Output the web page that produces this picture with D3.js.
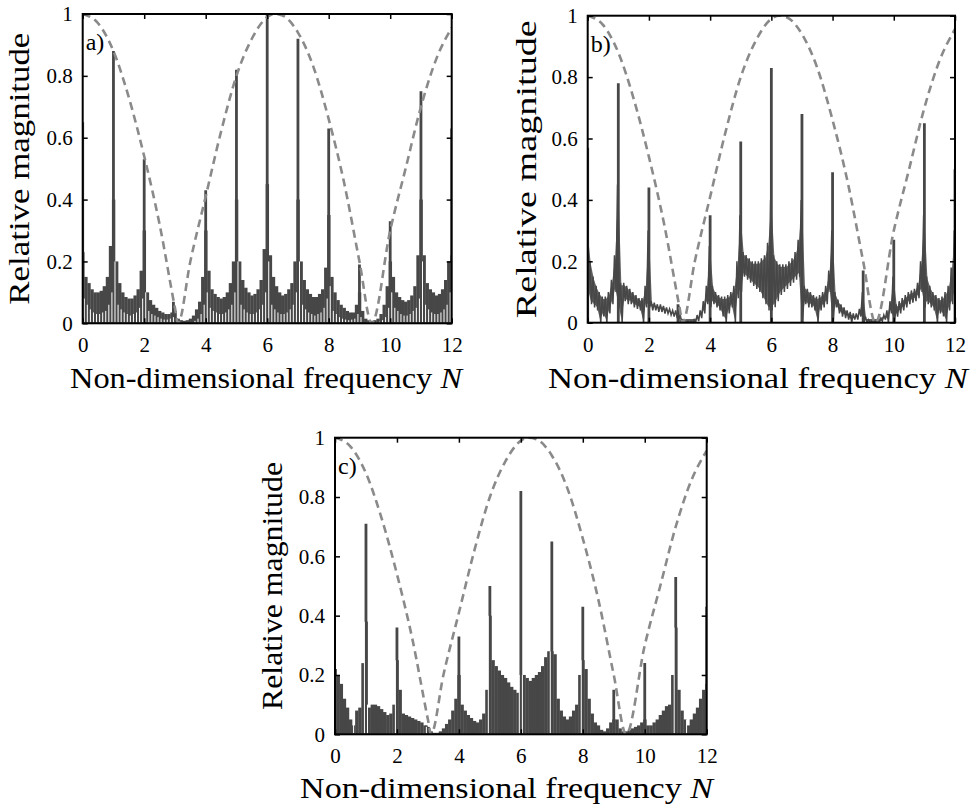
<!DOCTYPE html>
<head>
  <meta charset="utf-8">
  <script src="https://d3js.org/d3.v7.min.js"></script>
  <style>
    body { margin: 0; background: #fff; }
    text { font-family: "Liberation Serif", "Times New Roman", "DejaVu Serif Condensed", "DejaVu Serif", serif; fill: #000; }
  </style>
</head>
<body>
  <script>
    // frequency bins are 0.1 apart, from N = 0 to N = 12 (121 bins)
    var binStep = 0.1;
    var xTicks = [0, 2, 4, 6, 8, 10, 12];
    var yTicks = [0, 0.2, 0.4, 0.6, 0.8, 1];

    // dashed reference curve
    var curveN = [0, 0.5, 1, 1.5, 2, 2.5, 3, 3.1, 3.5, 4, 4.5, 5, 5.5, 6, 6.25, 6.5, 7, 7.5, 8, 8.5, 9, 9.4, 10, 10.5, 11, 11.5, 12];
    var curveV = [1.0, 0.97, 0.88, 0.73, 0.54, 0.32, 0.05, 0, 0.2, 0.41, 0.62, 0.8, 0.92, 0.99, 1.0, 0.995, 0.94, 0.83, 0.66, 0.455, 0.2, 0, 0.3, 0.5, 0.7, 0.855, 0.956];

    // peak heights at N = 0, 1, ..., 12
    var peakN = [0, 1, 2, 2.95, 4, 5, 6, 7, 8, 9, 10, 11, 12];
    var peaksA = [0.65, 0.88, 0.53, 0.07, 0.43, 0.82, 1.0, 0.92, 0.63, 0.19, 0.33, 0.75, 0.63];
    var peaksB = [0.57, 0.78, 0.44, 0.06, 0.35, 0.59, 0.83, 0.68, 0.49, 0.17, 0.27, 0.65, 0.5];
    var peaksC = [0.22, 0.71, 0.36, 0.03, 0.33, 0.5, 0.82, 0.65, 0.43, 0.15, 0.24, 0.53, 0.43];

    // panel a: outer envelope of the stems, and height of the white gaps between stems
    var specA = [
      0.23, 0.15, 0.13, 0.11, 0.10, 0.10, 0.105, 0.12, 0.15, 0.25,
      0.40, 0.20, 0.13, 0.10, 0.085, 0.08, 0.08, 0.09, 0.11, 0.17,
      0.30, 0.10, 0.075, 0.06, 0.05, 0.04, 0.035, 0.03, 0.03, 0.035,
      0.04, 0.015, 0.01, 0.008, 0.01, 0.015, 0.025, 0.045, 0.07, 0.15,
      0.30, 0.17, 0.11, 0.095, 0.085, 0.08, 0.085, 0.10, 0.13, 0.20,
      0.40, 0.20, 0.14, 0.115, 0.10, 0.09, 0.095, 0.11, 0.14, 0.24,
      0.45, 0.22, 0.15, 0.12, 0.10, 0.09, 0.095, 0.11, 0.13, 0.20,
      0.40, 0.20, 0.14, 0.11, 0.095, 0.085, 0.085, 0.095, 0.11, 0.18,
      0.35, 0.15, 0.10, 0.075, 0.06, 0.05, 0.04, 0.035, 0.035, 0.06,
      0.10, 0.04, 0.015, 0.01, 0.008, 0.01, 0.015, 0.03, 0.06, 0.12,
      0.20, 0.15, 0.10, 0.085, 0.075, 0.07, 0.075, 0.09, 0.12, 0.22,
      0.40, 0.22, 0.13, 0.11, 0.10, 0.09, 0.095, 0.11, 0.14, 0.20,
      0.22
    ];
    var innerA = [
      0.08, 0.06, 0.045, 0.035, 0.03, 0.03, 0.035, 0.04, 0.06, 0.10,
      0.20, 0.06, 0.045, 0.035, 0.03, 0.025, 0.03, 0.035, 0.05, 0.08,
      0.10, 0.04, 0.03, 0.025, 0.02, 0.015, 0.012, 0.012, 0.015, 0.02,
      0, 0, 0, 0, 0, 0, 0.008, 0.015, 0.03, 0.06,
      0.10, 0.05, 0.04, 0.035, 0.03, 0.03, 0.035, 0.045, 0.06, 0.10,
      0.20, 0.06, 0.045, 0.035, 0.03, 0.03, 0.035, 0.045, 0.06, 0.10,
      0.20, 0.06, 0.045, 0.035, 0.03, 0.03, 0.035, 0.045, 0.06, 0.10,
      0.20, 0.06, 0.045, 0.035, 0.03, 0.025, 0.03, 0.035, 0.05, 0.08,
      0.12, 0.04, 0.03, 0.02, 0.015, 0.012, 0.01, 0.012, 0.015, 0.03,
      0.02, 0, 0, 0, 0, 0, 0.005, 0.01, 0.02, 0.05,
      0.10, 0.05, 0.04, 0.03, 0.025, 0.025, 0.03, 0.04, 0.05, 0.08,
      0.20, 0.06, 0.045, 0.035, 0.03, 0.03, 0.035, 0.045, 0.06, 0.10,
      0
    ];

    // panel b: upper and lower edge of the oscillating signal
    var specBHi = [
      0.30, 0.20, 0.15, 0.12, 0.10, 0.085, 0.085, 0.10, 0.14, 0.22,
      0.45, 0.13, 0.13, 0.12, 0.11, 0.10, 0.09, 0.08, 0.08, 0.12,
      0.30, 0.07, 0.065, 0.06, 0.06, 0.055, 0.05, 0.045, 0.04, 0.04,
      0.055, 0.01, 0.008, 0.005, 0.005, 0.01, 0.025, 0.04, 0.07, 0.12,
      0.25, 0.12, 0.10, 0.09, 0.085, 0.085, 0.09, 0.10, 0.12, 0.20,
      0.35, 0.23, 0.22, 0.21, 0.20, 0.20, 0.20, 0.21, 0.22, 0.26,
      0.40, 0.22, 0.20, 0.19, 0.19, 0.19, 0.20, 0.21, 0.23, 0.27,
      0.40, 0.12, 0.11, 0.10, 0.09, 0.085, 0.09, 0.10, 0.12, 0.17,
      0.30, 0.10, 0.075, 0.06, 0.05, 0.04, 0.035, 0.03, 0.03, 0.045,
      0.10, 0.02, 0.01, 0.005, 0.005, 0.008, 0.015, 0.025, 0.04, 0.07,
      0.15, 0.06, 0.07, 0.08, 0.09, 0.10, 0.105, 0.11, 0.13, 0.20,
      0.35, 0.15, 0.12, 0.10, 0.09, 0.08, 0.085, 0.10, 0.12, 0.18,
      0.30
    ];
    var specBLo = [
      0.10, 0.06, 0.05, 0.04, 0, 0.02, 0, 0.03, 0.06, 0.10,
      0.05, 0, 0.07, 0.06, 0.06, 0.05, 0.045, 0.04, 0, 0.05,
      0.05, 0.04, 0.04, 0.035, 0.035, 0.03, 0.03, 0.025, 0.02, 0.015,
      0, 0, 0, 0, 0, 0, 0.005, 0.015, 0.03, 0.06,
      0.05, 0.06, 0.05, 0.04, 0.02, 0, 0.03, 0.05, 0, 0.08,
      0.10, 0.15, 0.14, 0.13, 0.12, 0.11, 0.10, 0.08, 0.06, 0.04,
      0.04, 0.05, 0.07, 0.09, 0.10, 0.11, 0.12, 0.13, 0.14, 0.15,
      0, 0.06, 0.05, 0.05, 0.04, 0, 0.04, 0.05, 0.06, 0.10,
      0, 0.05, 0.03, 0.02, 0.015, 0.01, 0, 0.01, 0.01, 0.02,
      0, 0, 0, 0, 0, 0, 0.005, 0.01, 0, 0.03,
      0, 0.02, 0.03, 0.04, 0.05, 0.06, 0.065, 0.07, 0.08, 0.10,
      0.05, 0.06, 0.05, 0.04, 0, 0.03, 0.02, 0, 0.04, 0.06,
      0.10
    ];

    // panel c: solid stems
    var specC = [
      0.22, 0.20, 0.17, 0.12, 0.09, 0.05, 0.03, 0.08, 0.09, 0.24,
      0.38, 0.09, 0.10, 0.10, 0.095, 0.085, 0.075, 0.065, 0.07, 0.10,
      0.25, 0.15, 0.07, 0.065, 0.06, 0.055, 0.05, 0.045, 0.04, 0.03,
      0.025, 0.01, 0.005, 0.005, 0.01, 0.02, 0.035, 0.05, 0.08, 0.12,
      0.20, 0.10, 0.08, 0.065, 0.055, 0.045, 0.04, 0.05, 0.07, 0.15,
      0.40, 0.25, 0.23, 0.215, 0.20, 0.19, 0.175, 0.16, 0.15, 0.14,
      0.20, 0.20, 0.19, 0.18, 0.19, 0.20, 0.21, 0.23, 0.26, 0.28,
      0.28, 0.27, 0.12, 0.08, 0.06, 0.05, 0.06, 0.08, 0.10, 0.20,
      0.25, 0.22, 0.12, 0.07, 0.04, 0.03, 0.015, 0.01, 0.02, 0.04,
      0.05, 0.05, 0.02, 0.01, 0.01, 0.015, 0.02, 0.025, 0.03, 0.04,
      0.05, 0.03, 0.03, 0.04, 0.05, 0.065, 0.08, 0.095, 0.10, 0.20,
      0.36, 0.15, 0.08, 0.05, 0.03, 0.05, 0.07, 0.09, 0.12, 0.15,
      0.17
    ];
    var gapsC = [0.6, 0.95, 1.05, 1.95, 2.95, 4.95, 5.95, 6.05, 6.95, 7.95, 10.95, 11.35];

    var darkGray = "#474747",
      curveGray = "#8a8a8a";
    var serif = "'Liberation Serif', 'Times New Roman', 'DejaVu Serif Condensed', 'DejaVu Serif', serif";

    var svg = d3.select("body").append("svg")
      .attr("width", 973)
      .attr("height", 809);

    svg.append("rect").attr("width", 973).attr("height", 809).attr("fill", "#fff");

    var panels = [
      { id: "a", label: "a)", left: 82.7, right: 451.7, top: 14, bottom: 323.3,
        spec: specA, inner: innerA, peaks: peaksA, kind: "stems",
        yLabelX: 29, yLabelLen: 272, xLabelY: 388, xLabelX: 70, xLabelLen: 392 },
      { id: "b", label: "b)", left: 587.7, right: 955, top: 15.7, bottom: 322.7,
        spec: specBHi, lower: specBLo, peaks: peaksB, kind: "zigzag",
        yLabelX: 536, yLabelLen: 298, xLabelY: 388, xLabelX: 548, xLabelLen: 420 },
      { id: "c", label: "c)", left: 335, right: 706.7, top: 437.7, bottom: 734.3,
        spec: specC, gaps: gapsC, peaks: peaksC, kind: "solid",
        yLabelX: 282, yLabelLen: 248, xLabelY: 798, xLabelX: 300, xLabelLen: 413 }
    ];

    panels.forEach(function(p) {
      var xScale = d3.scaleLinear().domain([0, 12]).range([p.left, p.right]);
      var yScale = d3.scaleLinear().domain([0, 1]).range([p.bottom, p.top]);
      var binW = xScale(binStep) - xScale(0);
      var bins = p.spec.map(function(v, i) { return { n: i * binStep, v: v, i: i }; });

      var clipId = "clip-" + p.id;
      svg.append("clipPath").attr("id", clipId)
        .append("rect")
        .attr("x", p.left).attr("y", p.top)
        .attr("width", p.right - p.left).attr("height", p.bottom - p.top);

      var plot = svg.append("g").attr("clip-path", "url(#" + clipId + ")");

      if (p.kind === "zigzag") {
        // band between the lower and upper edge, then the swinging signal on top
        var band = d3.area()
          .x(function(d) { return xScale(d.n); })
          .y0(function(d) { return yScale(Math.max(p.lower[d.i], 0) + 0.012); })
          .y1(function(d) { return yScale(d.v - 0.008); });
        plot.append("path").datum(bins)
          .attr("d", band)
          .attr("fill", darkGray)
          .attr("fill-opacity", 0.85);

        var pts = [];
        bins.forEach(function(d) {
          pts.push({ n: d.n - binStep / 4, v: d.v });
          pts.push({ n: d.n + binStep / 4, v: p.lower[d.i] });
        });
        var zig = d3.line()
          .x(function(d) { return xScale(d.n); })
          .y(function(d) { return yScale(d.v); });
        plot.append("path").datum(pts)
          .attr("d", zig)
          .attr("fill", "none")
          .attr("stroke", darkGray)
          .attr("stroke-width", 1.5);
      } else {
        plot.selectAll("rect.bin").data(bins).enter().append("rect")
          .attr("class", "bin")
          .attr("x", function(d) { return xScale(d.n - binStep / 2); })
          .attr("width", binW + 0.3)
          .attr("y", function(d) { return yScale(d.v); })
          .attr("height", function(d) { return yScale(0) - yScale(d.v); })
          .attr("fill", darkGray);
      }

      // peaks
      plot.selectAll("line.peak").data(p.peaks).enter().append("line")
        .attr("class", "peak")
        .attr("x1", function(d, i) { return xScale(peakN[i]); })
        .attr("x2", function(d, i) { return xScale(peakN[i]); })
        .attr("y1", yScale(0))
        .attr("y2", function(d) { return yScale(d); })
        .attr("stroke", darkGray)
        .attr("stroke-width", 2.8);

      // white gaps between stems
      if (p.inner) {
        plot.selectAll("line.gap").data(bins.filter(function(d) { return p.inner[d.i] > 0; }))
          .enter().append("line")
          .attr("class", "gap")
          .attr("x1", function(d) { return xScale(d.n + binStep / 2); })
          .attr("x2", function(d) { return xScale(d.n + binStep / 2); })
          .attr("y1", yScale(0) - 1)
          .attr("y2", function(d) { return yScale(p.inner[d.i]); })
          .attr("stroke", "#fff")
          .attr("stroke-width", 1);
      }
      if (p.gaps) {
        plot.selectAll("line.gap").data(p.gaps).enter().append("line")
          .attr("class", "gap")
          .attr("x1", function(d) { return xScale(d); })
          .attr("x2", function(d) { return xScale(d); })
          .attr("y1", yScale(0) - 1)
          .attr("y2", function(d) {
            var i = Math.round(d / binStep);
            return yScale(Math.max(p.spec[i], p.spec[Math.min(i + 1, 120)]));
          })
          .attr("stroke", "#fff")
          .attr("stroke-width", 1);
      }

      // dashed curve
      var curveLine = d3.line()
        .x(function(d, i) { return xScale(curveN[i]); })
        .y(function(d) { return yScale(d); })
        .curve(d3.curveMonotoneX);
      plot.append("path").datum(curveV)
        .attr("d", curveLine)
        .attr("fill", "none")
        .attr("stroke", curveGray)
        .attr("stroke-width", 2.6)
        .attr("stroke-dasharray", "8,5");

      // axes with inward ticks on all four sides
      var xAxis = d3.axisBottom(xScale).tickValues(xTicks).tickSizeInner(-5).tickSizeOuter(0).tickPadding(14);
      var yAxis = d3.axisLeft(yScale).tickValues(yTicks).tickSizeInner(-5).tickSizeOuter(0).tickPadding(10)
        .tickFormat(d3.format("~g"));
      var xTop = d3.axisTop(xScale).tickValues(xTicks).tickSizeInner(-5).tickSizeOuter(0).tickFormat("");
      var yRight = d3.axisRight(yScale).tickValues(yTicks).tickSizeInner(-5).tickSizeOuter(0).tickFormat("");

      var gx = svg.append("g").attr("transform", "translate(0," + p.bottom + ")").call(xAxis);
      var gy = svg.append("g").attr("transform", "translate(" + p.left + ",0)").call(yAxis);
      var gt = svg.append("g").attr("transform", "translate(0," + p.top + ")").call(xTop);
      var gr = svg.append("g").attr("transform", "translate(" + p.right + ",0)").call(yRight);
      [gx, gy, gt, gr].forEach(function(g) {
        g.attr("font-family", serif).attr("font-size", 21);
        g.select(".domain").remove();
        g.selectAll("line").attr("stroke", "#000").attr("stroke-width", 1.5);
        g.selectAll("text").style("font-size", "21px").attr("fill", "#000");
      });

      // frame
      svg.append("rect")
        .attr("x", p.left).attr("y", p.top)
        .attr("width", p.right - p.left).attr("height", p.bottom - p.top)
        .attr("fill", "none")
        .attr("stroke", "#000")
        .attr("stroke-width", 2);

      // panel letter
      svg.append("text")
        .attr("x", p.left + 3)
        .attr("y", p.top + 36)
        .style("font-size", "24px")
        .text(p.label);

      // axis titles
      var xt = svg.append("text")
        .attr("x", p.xLabelX)
        .attr("y", p.xLabelY)
        .attr("textLength", p.xLabelLen)
        .attr("lengthAdjust", "spacingAndGlyphs")
        .style("font-size", "29px");
      xt.append("tspan").text("Non-dimensional frequency ");
      xt.append("tspan").style("font-style", "italic").text("N");

      svg.append("text")
        .attr("transform", "translate(" + p.yLabelX + "," + ((p.top + p.bottom) / 2) + ") rotate(-90)")
        .attr("text-anchor", "middle")
        .attr("textLength", p.yLabelLen)
        .attr("lengthAdjust", "spacingAndGlyphs")
        .style("font-size", "29px")
        .text("Relative magnitude");
    });
  </script>
</body>
